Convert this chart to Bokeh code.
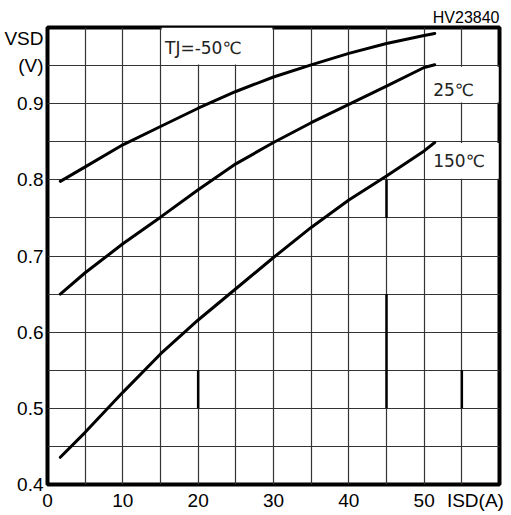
from bokeh.plotting import figure
from bokeh.models import FixedTicker, Range1d, Title
from bokeh.core.properties import value
from bokeh.embed import file_html
from bokeh.resources import INLINE

# ---- data ----
isd_a = [1.7, 5, 10, 15, 20, 25, 30, 35, 40, 45, 50, 51.4]
vsd_m50 = [0.798, 0.817, 0.846, 0.870, 0.894, 0.916, 0.935, 0.951, 0.966, 0.979, 0.9895, 0.992]
vsd_25 = [0.650, 0.678, 0.716, 0.751, 0.787, 0.821, 0.849, 0.875, 0.899, 0.923, 0.9475, 0.951]
vsd_150 = [0.4357, 0.4685, 0.521, 0.5714, 0.616, 0.657, 0.698, 0.7375, 0.7735, 0.805, 0.838, 0.849]
curve_labels = ["TJ=-50℃", "25℃", "150℃"]
x_tick_values = [0, 10, 20, 30, 40, 50]
y_tick_values = [0.4, 0.5, 0.6, 0.7, 0.8, 0.9]
x_grid_values = [5, 10, 15, 20, 25, 30, 35, 40, 45, 50, 55]
y_grid_values = [0.45, 0.5, 0.55, 0.6, 0.65, 0.7, 0.75, 0.8, 0.85, 0.9, 0.95]
# darker grid segments seen in the reference (x, y from, y to)
dark_x = [20, 45, 45, 55]
dark_y0 = [0.50, 0.75, 0.50, 0.50]
dark_y1 = [0.55, 0.80, 0.65, 0.55]
x_title = "ISD(A)"
y_title = "VSD"
y_unit = "(V)"
chart_code = "HV23840"

# positions for the axis titles (placed as extra tick labels)
X_TITLE_POS = 56.8
Y_TITLE_POS = 0.985
Y_UNIT_POS = 0.95

p = figure(width=511, height=515, output_backend="svg", toolbar_location=None,
           x_range=Range1d(0, 60), y_range=Range1d(0.4, 1.0),
           min_border_left=47, min_border_right=12, min_border_top=27, min_border_bottom=31)
p.background_fill_color = "white"
p.border_fill_color = "white"
p.outline_line_color = "black"
p.outline_line_width = 4

for ax in (p.xaxis[0], p.yaxis[0]):
    ax.axis_line_color = None
    ax.major_tick_line_color = None
    ax.minor_tick_line_color = None
    ax.major_tick_out = 0
    ax.major_tick_in = 0
    ax.minor_tick_out = 0
    ax.minor_tick_in = 0
    ax.major_label_text_font = "Liberation Sans"
    ax.major_label_text_font_size = "19px"
    ax.major_label_text_color = "black"
p.xaxis[0].ticker = FixedTicker(ticks=x_tick_values + [X_TITLE_POS])
p.xaxis[0].major_label_overrides = {X_TITLE_POS: x_title}
p.yaxis[0].ticker = FixedTicker(ticks=y_tick_values + [Y_UNIT_POS, Y_TITLE_POS])
p.yaxis[0].major_label_overrides = {Y_UNIT_POS: y_unit, Y_TITLE_POS: y_title}
p.xaxis[0].major_label_standoff = 5
p.yaxis[0].major_label_standoff = 4

p.xgrid[0].ticker = FixedTicker(ticks=x_grid_values)
p.ygrid[0].ticker = FixedTicker(ticks=y_grid_values)
for g in (p.xgrid[0], p.ygrid[0]):
    g.grid_line_color = "#333333"
    g.grid_line_width = 1.2
    g.grid_line_alpha = 1.0

# white boxes behind the curve labels
p.quad(left=[15.15, 50.15, 50.15], right=[29.85, 59.9, 59.9],
       bottom=[0.9515, 0.9015, 0.8015], top=[1.0, 0.9485, 0.8485],
       fill_color="white", line_color=None)

p.segment(x0=dark_x, y0=dark_y0, x1=dark_x, y1=dark_y1, line_color="black", line_width=2.5)

for ys in (vsd_m50, vsd_25, vsd_150):
    p.line(isd_a, ys, line_color="black", line_width=3, line_cap="round")

p.text(x=[15.6, 51.2, 51.2], y=[0.973, 0.918, 0.825], text=curve_labels,
       text_font=value("DejaVu Sans"), text_font_size="17px", text_color="#222222",
       text_baseline="middle", text_align="left")

p.add_layout(Title(text=chart_code, align="right", text_font="Liberation Sans",
                   text_font_size="16px", text_font_style="normal", text_color="black",
                   standoff=3, offset=0), "above")

open("out.html", "w").write(file_html(p, INLINE))
